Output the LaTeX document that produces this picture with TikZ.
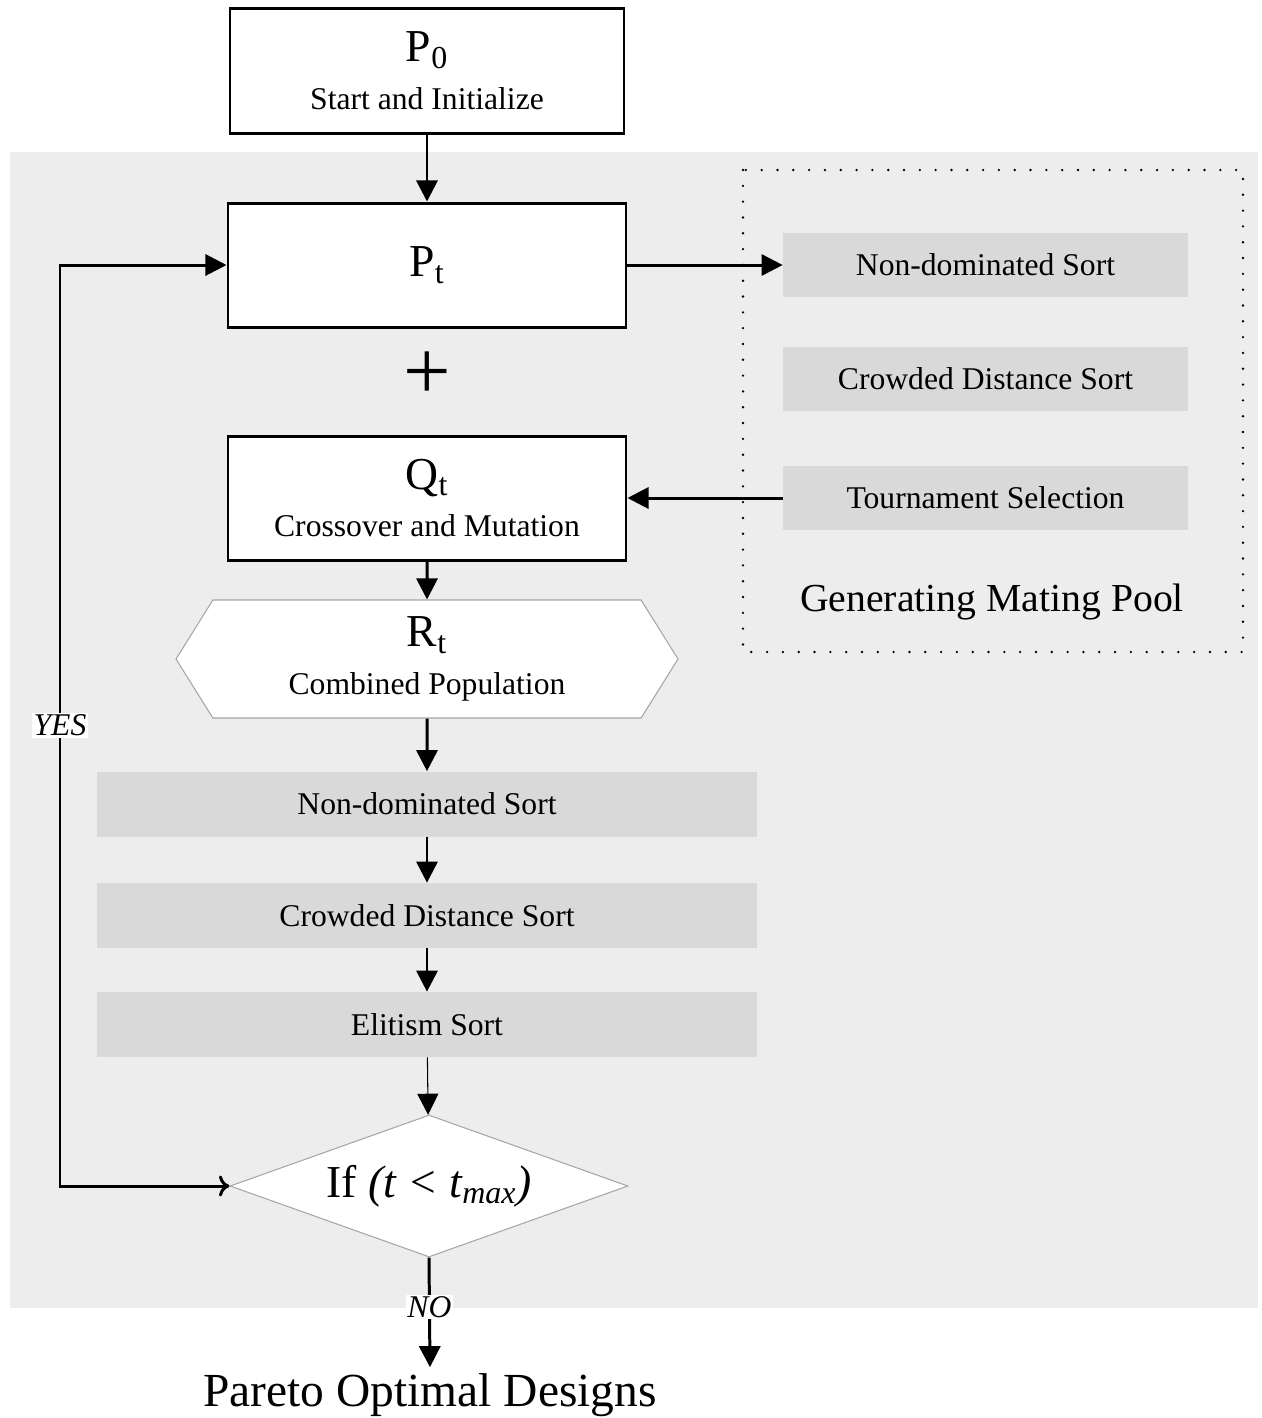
\documentclass[tikz,border=0pt]{standalone}
\usepackage{fontspec}
\setmainfont{Liberation Serif}
\usetikzlibrary{arrows.meta,shapes.geometric,shapes.symbols}
\newcommand{\hdfont}{\fontsize{26}{28}\selectfont}

\begin{document}
\begin{tikzpicture}[
 box/.style={draw=black, line width=1.7pt, fill=white, align=center, font=\fontsize{18}{20}\selectfont,
             minimum width=7.96cm, minimum height=2.48cm, inner sep=0pt},
 sortbox/.style={fill=black!15, font=\fontsize{18}{20}\selectfont, minimum height=1.3cm, inner sep=0pt},
 hex/.style={shape=signal, signal to=east and west, signal pointer angle=116, draw=gray!70, line width=0.6pt,
             fill=white, align=center, font=\fontsize{18}{20}\selectfont, minimum width=10.04cm, minimum height=2.36cm, inner sep=0pt},
 cond/.style={diamond, aspect=2.8, draw=gray!70, line width=0.6pt, fill=white, font=\hdfont,
             minimum width=7.96cm, minimum height=2.84cm, inner sep=0pt},
 lbl/.style={fill=white, font=\fontsize{18}{20}\selectfont\itshape, inner sep=1pt},
 ar/.style={-{Triangle[length=12pt,width=12pt]}, line width=1.7pt},
 thinar/.style={-{Triangle[length=12pt,width=12pt]}, line width=0.6pt},
]
 \useasboundingbox (0,0) rectangle (25.24,-28.36);
 \fill[black!7] (0.20,-3.04) rectangle (25.16,-26.16);

 \node[box, minimum width=7.88cm, minimum height=2.5cm] (p0) at (8.54,-1.41) {{\hdfont P\textsubscript{0}}\\[7pt] Start and Initialize};
 \node[box] (pt) at (8.54,-5.30) {\hdfont P\textsubscript{t}};
 \node[font=\fontsize{48}{48}\selectfont] (plus) at (8.54,-7.52) {+};
 \node[box] (qt) at (8.54,-9.96) {{\hdfont Q\textsubscript{t}}\\[7pt] Crossover and Mutation};
 \node[hex] (rt) at (8.54,-13.18) {{\hdfont R\textsubscript{t}}\\[7pt] Combined Population};
 \node[sortbox, minimum width=13.2cm] (nds) at (8.54,-16.08) {Non-dominated Sort};
 \node[sortbox, minimum width=13.2cm] (cds) at (8.54,-18.31) {Crowded Distance Sort};
 \node[sortbox, minimum width=13.2cm] (elit) at (8.54,-20.49) {Elitism Sort};
 \node[cond] (dec) at (8.58,-23.72) {If \textit{(t < t\textsubscript{max})}};
 \node[font=\fontsize{27}{30}\selectfont] (pareto) at (8.60,-27.90) {Pareto Optimal Designs};

 % mating pool
 \draw[line width=1.5pt, line cap=round, dash pattern=on 0pt off 9pt] (14.86,-3.40) rectangle (24.86,-13.04);
 \node[sortbox, minimum width=8.1cm, minimum height=1.28cm] (mnds) at (19.71,-5.30) {Non-dominated Sort};
 \node[sortbox, minimum width=8.1cm, minimum height=1.28cm] (mcds) at (19.71,-7.58) {Crowded Distance Sort};
 \node[sortbox, minimum width=8.1cm, minimum height=1.28cm] (tour) at (19.71,-9.96) {Tournament Selection};
 \node[font=\fontsize{22.6}{24}\selectfont] (pool) at (19.84,-12.04) {Generating Mating Pool};

 \draw[ar] (p0) -- (pt);
 \draw[ar] (qt) -- (rt);
 \draw[ar] (rt) -- (nds);
 \draw[ar] (nds) -- (cds);
 \draw[ar] (cds) -- (elit);
 \draw[thinar] (elit) -- (dec);
 \draw[ar] (pt) -- (mnds);
 \draw[ar] (tour) -- (qt);

 % loop back while t < tmax
 \coordinate (loop) at (1.20,-23.72);
 \draw[line width=1.7pt, {To[length=6pt,width=12pt]}-{Triangle[length=12pt,width=12pt]}] (dec.west) -- (loop) |- (pt.west)
   node[lbl, pos=0.25] (yes) {YES};
 \draw[ar] (dec.south) -- (pareto.north) node[lbl, pos=0.45] (no) {NO};
\end{tikzpicture}
\end{document}
